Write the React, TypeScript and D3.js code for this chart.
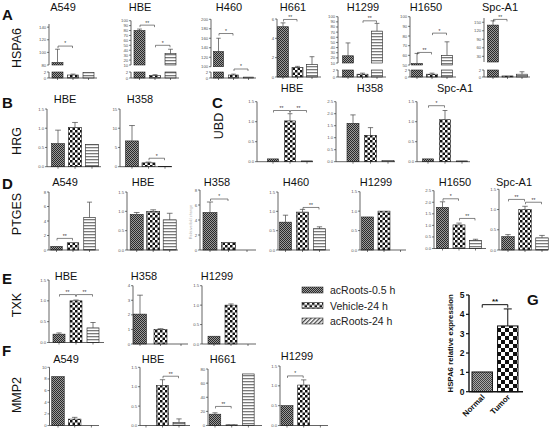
import React from "react";
import * as d3 from "d3";

// ---------------- DATA ----------------
const conditions = ["acRoots-0.5 h", "Vehicle-24 h", "acRoots-24 h"];

// A — HSPA6 (broken y axis in most panels)
const hspa6Cells = ["A549", "HBE", "H460", "H661", "H1299", "H1650", "Spc-A1"];
const hspa6Means = [[84, 1.0, 1.8], [80, 0.8, 33], [132, 1.0, 0.3], [5.2, 1.0, 1.3], [24, 0.8, 72], [51.5, 0.8, 60], [140, 0.3, 0.8]];
const hspa6Errors = [[105, 1.3, null], [83, 1.1, 42], [160, 1.3, null], [5.6, 1.1, 2.1], [49, 1.1, 87], [62, 1.1, 74], [155, null, 1.5]];
const hspa6Domains = [[80, 145], [10, 100], [100, 200], [0, 6], [10, 100], [50, 100], [10, 165]];
const hspa6Ticks = [[80, 100, 120, 140], [10, 20, 30, 40, 50, 60, 70, 80, 90, 100], [100, 120, 140, 160, 180, 200], [0, 2, 4, 6], [10, 20, 30, 40, 50, 60, 70, 80, 90, 100], [50, 60, 70, 80, 90, 100], [30, 60, 90, 120, 150]];
const hspa6Broken = [true, true, true, false, true, true, true];
const hspa6LowerDomain = [0, 2];
const hspa6LowerTicks = [0, 2];
const hspa6Sig = [[[0, 1, 110, "*"]], [[0, 1, 91, "**"], [1, 2, 50, "*"]], [[0, 1, 170, "*"], [1, 2, 3, "*"]], [[0, 1, 5.95, "**"]], [[1, 2, 92, "**"]], [[0, 1, 63, "**"], [1, 2, 83, "*"]], [[0, 1, 160, "**"]]];

// B — HRG
const hrgCells = ["HBE", "H358"];
const hrgMeans = [[0.6, 1.02, 0.58], [6.7, 1.0, 0.1]];
const hrgErrors = [[0.95, 1.15, null], [10.7, 1.2, null]];
const hrgDomains = [[0, 1.5], [0, 15]];
const hrgTicks = [[0, 0.5, 1.0, 1.5], [0, 5, 10, 15]];
const hrgSig = [[], [[1, 2, 2.2, "*"]]];

// C — UBD
const ubdCells = ["HBE", "H358", "Spc-A1"];
const ubdMeans = [[0.07, 1.02, 0.02], [1.6, 1.1, 0.05], [0.07, 1.05, 0.02]];
const ubdErrors = [[null, 1.2, null], [1.95, 1.42, null], [null, 1.28, null]];
const ubdDomains = [[0, 1.5], [0, 2.5], [0, 1.5]];
const ubdTicks = [[0, 0.5, 1.0, 1.5], [0, 0.5, 1.0, 1.5, 2.0, 2.5], [0, 0.5, 1.0, 1.5]];
const ubdSig = [[[0, 1, 1.28, "**"], [1, 2, 1.28, "**"]], [], [[0, 1, 1.4, "*"]]];

// D — PTGES
const ptgesCells = ["A549", "HBE", "H358", "H460", "H1299", "H1650", "Spc-A1"];
const ptgesMeans = [[0.5, 1.0, 4.5], [0.92, 1.0, 0.78], [5.0, 1.0, 0], [0.72, 0.98, 0.55], [0.85, 1.0, 0], [1.78, 1.02, 0.35], [0.33, 1.0, 0.3]];
const ptgesErrors = [[null, null, 6.6], [0.97, 1.04, 0.95], [6.4, null, null], [0.9, 1.05, 0.6], [null, null, null], [2.02, 1.1, 0.4], [0.38, 1.08, 0.36]];
const ptgesDomains = [[0, 8], [0, 1.5], [0, 8], [0, 1.5], [0, 1.5], [0, 2.5], [0, 1.5]];
const ptgesTicks = [[0, 2, 4, 6, 8], [0, 0.5, 1.0, 1.5], [0, 2, 4, 6, 8], [0, 0.5, 1.0, 1.5], [0, 0.5, 1.0, 1.5], [0, 0.5, 1.0, 1.5, 2.0, 2.5], [0, 0.5, 1.0, 1.5]];
const ptgesSig = [[[0, 1, 1.6, "**"]], [], [[0, 1, 6.8, "*"]], [[1, 2, 1.1, "**"]], [], [[0, 1, 2.15, "*"], [1, 2, 1.3, "**"]], [[0, 1, 1.25, "**"], [1, 2, 1.18, "**"]]];

// E — TXK
const txkCells = ["HBE", "H358", "H1299"];
const txkMeans = [[0.2, 1.0, 0.35], [2.05, 1.0, 0], [0.2, 1.0, 0]];
const txkErrors = [[0.23, 1.02, 0.48], [3.35, 1.05, null], [null, 1.03, null]];
const txkDomains = [[0, 1.5], [0, 4], [0, 1.5]];
const txkTicks = [[0, 0.5, 1.0, 1.5], [0, 1, 2, 3, 4], [0, 0.5, 1.0, 1.5]];
const txkSig = [[[0, 1, 1.15, "**"], [1, 2, 1.15, "**"]], [], []];

// F — MMP2
const mmp2Cells = ["A549", "HBE", "H661", "H1299"];
const mmp2Means = [[8.4, 1.1, 0], [0, 1.03, 0.08], [16, 1, 73], [0.5, 1.02, 0]];
const mmp2Errors = [[null, 1.4, null], [null, 1.18, 0.17], [18, null, null], [null, 1.15, null]];
const mmp2Domains = [[0, 10], [0, 1.5], [0, 80], [0, 1.5]];
const mmp2Ticks = [[0, 2, 4, 6, 8, 10], [0, 0.5, 1.0, 1.5], [0, 20, 40, 60, 80], [0, 0.5, 1.0, 1.5]];
const mmp2Sig = [[], [[1, 2, 1.27, "**"]], [[0, 1, 27, "**"]], [[0, 1, 1.25, "*"]]];

// G — HSPA6 tissue
const tissueGroups = ["Normal", "Tumor"];
const tissueMeans = [1.02, 3.4];
const tissueErrors = [null, 4.28];
const tissueTicks = [0, 1, 2, 3, 4, 5];
const tissueSig = [[0, 1, 4.5, "**"]];

// ---------------- LAYOUT ----------------
const FONT = "Liberation Sans, Arial, Helvetica, sans-serif";
const fills = ["pA", "pV", "pH"];

type Layout = { ax: number; c0: number; step: number; bw: number; xEnd: number; top: number; bottom: number; uBottom?: number; lTop?: number; tx: number; ty: number };

const layoutA: Layout[] = [
  { ax: 49, c0: 57.5, step: 15.5, bw: 11, xEnd: 97, top: 24, uBottom: 65, lTop: 72, bottom: 78, tx: 63, ty: 11 },
  { ax: 131, c0: 139.5, step: 15.5, bw: 11, xEnd: 179, top: 20.7, uBottom: 65, lTop: 72, bottom: 78, tx: 140, ty: 11 },
  { ax: 211, c0: 218.5, step: 15, bw: 10, xEnd: 256, top: 19.3, uBottom: 66.7, lTop: 72, bottom: 78, tx: 229, ty: 11 },
  { ax: 277, c0: 283, step: 14.5, bw: 11, xEnd: 321, top: 19, bottom: 77, tx: 293, ty: 11 },
  { ax: 338, c0: 348, step: 14.5, bw: 11, xEnd: 386, top: 16.7, uBottom: 63, lTop: 70, bottom: 77, tx: 363, ty: 11 },
  { ax: 410, c0: 417, step: 15, bw: 11, xEnd: 456, top: 16.7, uBottom: 65, lTop: 70, bottom: 77, tx: 426, ty: 11 },
  { ax: 484, c0: 493, step: 14.5, bw: 11, xEnd: 530, top: 18, uBottom: 62, lTop: 70, bottom: 77, tx: 500, ty: 11 },
];
const layoutB: Layout[] = [
  { ax: 47, c0: 58, step: 17, bw: 13, xEnd: 101, top: 109, bottom: 166.7, tx: 65, ty: 103 },
  { ax: 120, c0: 132, step: 16.5, bw: 13, xEnd: 172, top: 109, bottom: 166.7, tx: 140, ty: 103 },
];
const layoutC: Layout[] = [
  { ax: 257, c0: 273, step: 17, bw: 11, xEnd: 313, top: 101.7, bottom: 161.7, tx: 292, ty: 92 },
  { ax: 336, c0: 353, step: 17.5, bw: 12, xEnd: 395, top: 101.7, bottom: 161.7, tx: 370, ty: 92 },
  { ax: 417, c0: 428, step: 17, bw: 11, xEnd: 470, top: 101.7, bottom: 161.7, tx: 455, ty: 92 },
];
const layoutD: Layout[] = [
  { ax: 49, c0: 56.5, step: 16.5, bw: 11.5, xEnd: 99, top: 192, bottom: 250, tx: 65, ty: 186 },
  { ax: 127, c0: 136.7, step: 16.5, bw: 13, xEnd: 178, top: 192, bottom: 250, tx: 143, ty: 186 },
  { ax: 200, c0: 210, step: 18.5, bw: 14, xEnd: 256, top: 190, bottom: 250, tx: 217, ty: 186 },
  { ax: 278, c0: 285.5, step: 17, bw: 12, xEnd: 330, top: 192, bottom: 250, tx: 296, ty: 186 },
  { ax: 360, c0: 367.5, step: 16.5, bw: 12, xEnd: 406, top: 191.7, bottom: 250, tx: 376, ty: 186 },
  { ax: 434, c0: 442.5, step: 16.5, bw: 12, xEnd: 486, top: 190.7, bottom: 248.5, tx: 455, ty: 186 },
  { ax: 499, c0: 508, step: 17, bw: 12.5, xEnd: 548, top: 189.3, bottom: 250, tx: 514, ty: 186 },
];
const layoutE: Layout[] = [
  { ax: 49, c0: 59, step: 17, bw: 12, xEnd: 104, top: 280, bottom: 342.5, tx: 66, ty: 280 },
  { ax: 133, c0: 140, step: 20.5, bw: 13, xEnd: 188, top: 285.7, bottom: 344, tx: 144, ty: 280 },
  { ax: 202, c0: 214, step: 17, bw: 12, xEnd: 256, top: 285.7, bottom: 344, tx: 217, ty: 280 },
];
const layoutF: Layout[] = [
  { ax: 49.5, c0: 58, step: 16.7, bw: 12.5, xEnd: 99, top: 367.3, bottom: 425.5, tx: 66, ty: 363 },
  { ax: 140, c0: 146, step: 16.5, bw: 12, xEnd: 190, top: 367.3, bottom: 425.5, tx: 153, ty: 363 },
  { ax: 208, c0: 215, step: 16.7, bw: 11.5, xEnd: 262, top: 369, bottom: 425.5, tx: 223, ty: 363 },
  { ax: 280, c0: 287, step: 16.7, bw: 12, xEnd: 328, top: 366, bottom: 425.5, tx: 297, ty: 360 },
];

type PanelData = {
  title: string; means: number[]; errs: (number | null)[]; domain: number[]; ticks: number[];
  sig: any[]; lower?: number[]; lowerTicks?: number[];
};

function buildRow(cells: string[], means: number[][], errs: (number | null)[][], domains: number[][], ticks: number[][], sig: any[][], broken?: boolean[]): PanelData[] {
  return cells.map((c, i) => ({
    title: c, means: means[i], errs: errs[i], domain: domains[i], ticks: ticks[i], sig: sig[i],
    lower: broken && broken[i] ? hspa6LowerDomain : undefined,
    lowerTicks: broken && broken[i] ? hspa6LowerTicks : undefined,
  }));
}

const rowA = buildRow(hspa6Cells, hspa6Means, hspa6Errors, hspa6Domains, hspa6Ticks, hspa6Sig, hspa6Broken);
const rowB = buildRow(hrgCells, hrgMeans, hrgErrors, hrgDomains, hrgTicks, hrgSig);
const rowC = buildRow(ubdCells, ubdMeans, ubdErrors, ubdDomains, ubdTicks, ubdSig);
const rowD = buildRow(ptgesCells, ptgesMeans, ptgesErrors, ptgesDomains, ptgesTicks, ptgesSig);
const rowE = buildRow(txkCells, txkMeans, txkErrors, txkDomains, txkTicks, txkSig);
const rowF = buildRow(mmp2Cells, mmp2Means, mmp2Errors, mmp2Domains, mmp2Ticks, mmp2Sig);

function fmtTick(v: number, domain: number[]) {
  return domain[1] <= 2.5 ? d3.format(".1f")(v) : String(v);
}

function Panel({ d, L, id }: { d: PanelData; L: Layout; id: string }) {
  const broken = !!d.lower;
  const y = d3.scaleLinear().domain(d.domain).range([broken ? (L.uBottom as number) : L.bottom, L.top]);
  const yl = d3.scaleLinear().domain(d.lower || [0, 1]).range([L.bottom, L.lTop ?? L.bottom]);
  const yOf = (v: number) => (broken ? (v >= d.domain[0] ? y(v) : yl(v)) : y(v));
  const x = d3.scaleLinear().domain([0, 2]).range([L.c0, L.c0 + 2 * L.step]);
  const stroke = "#222";
  const els: any[] = [];

  d.means.forEach((v, i) => {
    const cx = x(i);
    const x0 = cx - L.bw / 2;
    if (v <= 0) return;
    const fill = `url(#${fills[i]})`;
    if (broken) {
      const lv = Math.min(v, (d.lower as number[])[1]);
      els.push(<rect key={`bl${i}`} x={x0} y={yl(lv)} width={L.bw} height={L.bottom - yl(lv)} fill={fill} stroke={stroke} strokeWidth={0.6} />);
      if (v > d.domain[0]) {
        els.push(<rect key={`bu${i}`} x={x0} y={y(v)} width={L.bw} height={y(d.domain[0]) - y(v)} fill={fill} stroke={stroke} strokeWidth={0.6} />);
      }
    } else {
      els.push(<rect key={`b${i}`} x={x0} y={y(v)} width={L.bw} height={y(d.domain[0]) - y(v)} fill={fill} stroke={stroke} strokeWidth={0.6} />);
    }
    const e = d.errs[i];
    if (e != null) {
      const cw = L.bw * 0.22;
      els.push(<path key={`e${i}`} d={`M${cx},${yOf(v)}V${yOf(e)}M${cx - cw},${yOf(e)}H${cx + cw}`} stroke="#444" strokeWidth={0.7} fill="none" />);
    }
  });

  d.sig.forEach((s: any, k: number) => {
    const [a, b, v, lab] = s;
    const yb = yOf(v);
    const x1 = x(a) + 0.5;
    const x2 = x(b) - 0.5;
    els.push(<path key={`s${k}`} d={`M${x1},${yb + 2}V${yb}H${x2}V${yb + 2}`} stroke="#333" strokeWidth={0.6} fill="none" />);
    els.push(<text key={`st${k}`} x={(x1 + x2) / 2} y={yb - 0.6} fontSize={5} textAnchor="middle" fill="#333" fontFamily={FONT}>{lab}</text>);
  });

  const axisEls: any[] = [];
  const yTop = y(d.domain[1]);
  const yBot = y(d.domain[0]);
  axisEls.push(<line key="ya" x1={L.ax} x2={L.ax} y1={yBot} y2={yTop} stroke={stroke} strokeWidth={0.7} />);
  d.ticks.forEach((t) => {
    axisEls.push(<line key={`t${t}`} x1={L.ax - 2} x2={L.ax} y1={y(t)} y2={y(t)} stroke={stroke} strokeWidth={0.6} />);
    axisEls.push(<text key={`tl${t}`} x={L.ax - 2.8} y={y(t) + 1.5} fontSize={4.3} textAnchor="end" fill="#555" fontFamily={FONT}>{fmtTick(t, d.domain)}</text>);
  });
  if (broken) {
    axisEls.push(<line key="yla" x1={L.ax} x2={L.ax} y1={L.bottom} y2={yl((d.lower as number[])[1])} stroke={stroke} strokeWidth={0.7} />);
    (d.lowerTicks || []).forEach((t) => {
      axisEls.push(<line key={`lt${t}`} x1={L.ax - 2} x2={L.ax} y1={yl(t)} y2={yl(t)} stroke={stroke} strokeWidth={0.6} />);
      axisEls.push(<text key={`ltl${t}`} x={L.ax - 2.8} y={yl(t) + 1.5} fontSize={4.3} textAnchor="end" fill="#555" fontFamily={FONT}>{t}</text>);
    });
  }
  axisEls.push(<line key="xa" x1={L.ax} x2={L.xEnd} y1={L.bottom} y2={L.bottom} stroke={stroke} strokeWidth={0.7} />);
  [0, 1, 2].forEach((i) => {
    axisEls.push(<line key={`xt${i}`} x1={x(i)} x2={x(i)} y1={L.bottom} y2={L.bottom + 2} stroke={stroke} strokeWidth={0.6} />);
  });

  return (
    <g key={id}>
      <text x={L.tx} y={L.ty} fontSize={11} textAnchor="middle" fill="#111" fontFamily={FONT}>{d.title}</text>
      {els}
      {axisEls}
    </g>
  );
}

function Row({ data, layout, name }: { data: PanelData[]; layout: Layout[]; name: string }) {
  return <g>{data.map((d, i) => <Panel key={`${name}${i}`} id={`${name}${i}`} d={d} L={layout[i]} />)}</g>;
}

function GPanel() {
  const ax = 469, bottom = 391.7, top = 295, xEnd = 523;
  const y = d3.scaleLinear().domain([0, 5]).range([bottom, top]);
  const x = d3.scaleBand().domain(tissueGroups).range([472, 518]).paddingInner(0.2).paddingOuter(0);
  const bw = x.bandwidth();
  const gf = ["gA", "gV"];
  return (
    <g>
      {tissueGroups.map((g, i) => {
        const v = tissueMeans[i];
        const x0 = x(g) as number;
        const cx = x0 + bw / 2;
        const e = tissueErrors[i];
        return (
          <g key={g}>
            <rect x={x0} y={y(v)} width={bw} height={bottom - y(v)} fill={`url(#${gf[i]})`} stroke="#111" strokeWidth={1} />
            {e != null && <path d={`M${cx},${y(v)}V${y(e)}M${cx - 4},${y(e)}H${cx + 4}`} stroke="#111" strokeWidth={1} fill="none" />}
            <text transform={`translate(${cx + 3},${bottom + 6}) rotate(-45)`} fontSize={8} fontWeight="bold" textAnchor="end" fill="#111" fontFamily={FONT}>{g}</text>
          </g>
        );
      })}
      {tissueSig.map((s: any, k) => {
        const [a, b, v, lab] = s;
        const x1 = (x(tissueGroups[a]) as number) + bw / 2;
        const x2 = (x(tissueGroups[b]) as number) + bw / 2;
        const yb = y(v);
        return (
          <g key={k}>
            <path d={`M${x1},${yb + 3}V${yb}H${x2}V${yb + 3}`} stroke="#111" strokeWidth={1} fill="none" />
            <text x={(x1 + x2) / 2} y={yb - 1} fontSize={8} fontWeight="bold" textAnchor="middle" fill="#111" fontFamily={FONT}>{lab}</text>
          </g>
        );
      })}
      <line x1={ax} x2={ax} y1={bottom} y2={top} stroke="#111" strokeWidth={1.4} />
      <line x1={ax} x2={xEnd} y1={bottom} y2={bottom} stroke="#111" strokeWidth={1.4} />
      {tissueTicks.map((t) => (
        <g key={t}>
          <line x1={ax - 3} x2={ax} y1={y(t)} y2={y(t)} stroke="#111" strokeWidth={1.2} />
          <text x={ax - 4.5} y={y(t) + 3} fontSize={8.5} fontWeight="bold" textAnchor="end" fill="#111" fontFamily={FONT}>{t}</text>
        </g>
      ))}
      <text transform={`translate(453,${(top + bottom) / 2}) rotate(-90)`} fontSize={7.8} fontWeight="bold" textAnchor="middle" fill="#111" fontFamily={FONT}>HSPA6 relative expression</text>
      <text x={527} y={305} fontSize={15} fontWeight="bold" fill="#111" fontFamily={FONT}>G</text>
    </g>
  );
}

const letterStyle = { fontSize: 15, fontWeight: "bold" as const, fill: "#111", fontFamily: FONT };
const geneStyle = { fontSize: 12.5, fill: "#111", fontFamily: FONT };

export default function App() {
  return (
    <svg width={560} height={429} style={{ position: "absolute", left: 0, top: 0, background: "#fff" }}>
      <defs>
        <pattern id="pA" width="2" height="2" patternUnits="userSpaceOnUse">
          <rect width="2" height="2" fill="#9a9a9a" />
          <rect width="1" height="1" fill="#2a2a2a" />
          <rect x="1" y="1" width="1" height="1" fill="#2a2a2a" />
        </pattern>
        <pattern id="pV" width="5" height="5" patternUnits="userSpaceOnUse">
          <rect width="5" height="5" fill="#fff" />
          <rect width="2.5" height="2.5" fill="#111" />
          <rect x="2.5" y="2.5" width="2.5" height="2.5" fill="#111" />
        </pattern>
        <pattern id="pH" width="4" height="3" patternUnits="userSpaceOnUse">
          <rect width="4" height="3" fill="#fff" />
          <rect width="4" height="1.3" fill="#7a7a7a" />
        </pattern>
        <pattern id="pD" width="3" height="3" patternUnits="userSpaceOnUse" patternTransform="rotate(45)">
          <rect width="3" height="3" fill="#fff" />
          <rect width="1.3" height="3" fill="#444" />
        </pattern>
        <pattern id="gA" width="2" height="2" patternUnits="userSpaceOnUse">
          <rect width="2" height="2" fill="#a8a8a8" />
          <rect width="1" height="1" fill="#404040" />
          <rect x="1" y="1" width="1" height="1" fill="#404040" />
        </pattern>
        <pattern id="gV" width="8" height="8" patternUnits="userSpaceOnUse" x="497">
          <rect width="8" height="8" fill="#fff" />
          <rect width="4" height="4" fill="#111" />
          <rect x="4" y="4" width="4" height="4" fill="#111" />
        </pattern>
      </defs>
      <rect width={560} height={429} fill="#fff" />

      {/* panel letters */}
      <text x={2} y={20} {...letterStyle}>A</text>
      <text x={2} y={108} {...letterStyle}>B</text>
      <text x={212} y={108} {...letterStyle}>C</text>
      <text x={2} y={189} {...letterStyle}>D</text>
      <text x={2} y={284} {...letterStyle}>E</text>
      <text x={2} y={356} {...letterStyle}>F</text>

      {/* gene labels */}
      <text transform="translate(21,48) rotate(-90)" textAnchor="middle" {...geneStyle}>HSPA6</text>
      <text transform="translate(21,141) rotate(-90)" textAnchor="middle" {...geneStyle}>HRG</text>
      <text transform="translate(223,126) rotate(-90)" textAnchor="middle" {...geneStyle}>UBD</text>
      <text transform="translate(21,214) rotate(-90)" textAnchor="middle" {...geneStyle}>PTGES</text>
      <text transform="translate(21,305) rotate(-90)" textAnchor="middle" {...geneStyle}>TXK</text>
      <text transform="translate(21,395) rotate(-90)" textAnchor="middle" {...geneStyle}>MMP2</text>

      <Row data={rowA} layout={layoutA} name="A" />
      <Row data={rowB} layout={layoutB} name="B" />
      <Row data={rowC} layout={layoutC} name="C" />
      <Row data={rowD} layout={layoutD} name="D" />
      <Row data={rowE} layout={layoutE} name="E" />
      <Row data={rowF} layout={layoutF} name="F" />

      <text transform="translate(192,222) rotate(-90)" textAnchor="middle" fontSize={3.8} fill="#aaa" fontFamily={FONT}>Relative fold change</text>

      {/* legend */}
      {conditions.map((c, i) => (
        <g key={c} transform={`translate(302,${287 + i * 15.5})`}>
          <rect x={0} y={0} width={21} height={6} fill={`url(#${i === 2 ? "pD" : fills[i]})`} stroke="#333" strokeWidth={0.6} />
          <text x={28} y={7} fontSize={10.5} fill="#222" fontFamily={FONT}>{c}</text>
        </g>
      ))}

      <GPanel />
    </svg>
  );
}
